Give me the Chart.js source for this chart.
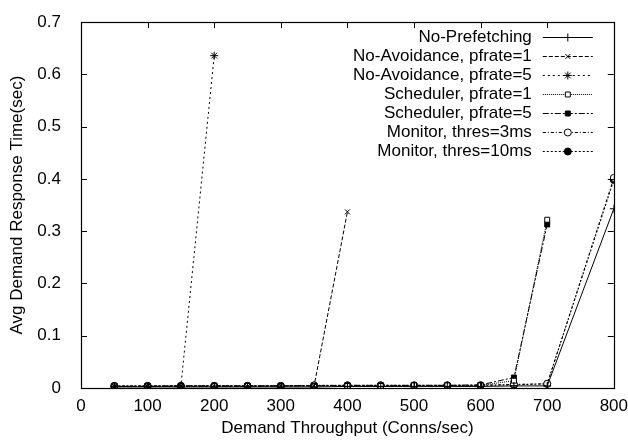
<!DOCTYPE html>
<html>
<head>
<meta charset="utf-8">
<script src="https://cdn.jsdelivr.net/npm/chart.js@4.4.1/dist/chart.umd.min.js"></script>
<style>
  html, body { margin: 0; padding: 0; background: #fff; }
  #wrap { width: 628px; height: 442px; position: relative; }
</style>
</head>
<body>
<div id="wrap"><canvas id="myChart"></canvas></div>
<script>
// values
const seriesNames = [
  'No-Prefetching',
  'No-Avoidance, pfrate=1',
  'No-Avoidance, pfrate=5',
  'Scheduler, pfrate=1',
  'Scheduler, pfrate=5',
  'Monitor, thres=3ms',
  'Monitor, thres=10ms'
]

const noPrefetchX = [50, 100, 150, 200, 250, 300, 350, 400, 450, 500, 550, 600, 650, 700, 800]
const noPrefetchY = [0.002, 0.002, 0.002, 0.002, 0.002, 0.002, 0.002, 0.003, 0.003, 0.003, 0.003, 0.003, 0.004, 0.004, 0.343]

const noAvoid1X = [50, 100, 150, 200, 250, 300, 350, 400]
const noAvoid1Y = [0.003, 0.003, 0.003, 0.003, 0.003, 0.004, 0.004, 0.337]

const noAvoid5X = [50, 100, 150, 200]
const noAvoid5Y = [0.003, 0.003, 0.004, 0.636]

const sched1X = [50, 100, 150, 200, 250, 300, 350, 400, 450, 500, 550, 600, 650, 700]
const sched1Y = [0.003, 0.003, 0.004, 0.004, 0.004, 0.004, 0.004, 0.004, 0.004, 0.005, 0.005, 0.005, 0.014, 0.322]

const sched5X = [50, 100, 150, 200, 250, 300, 350, 400, 450, 500, 550, 600, 650, 700]
const sched5Y = [0.003, 0.003, 0.004, 0.004, 0.004, 0.004, 0.004, 0.005, 0.005, 0.005, 0.005, 0.006, 0.020, 0.313]

const mon3X = [50, 100, 150, 200, 250, 300, 350, 400, 450, 500, 550, 600, 650, 700, 800]
const mon3Y = [0.004, 0.004, 0.004, 0.004, 0.004, 0.004, 0.005, 0.005, 0.005, 0.005, 0.005, 0.005, 0.007, 0.008, 0.402]

const mon10X = [50, 100, 150, 200, 250, 300, 350, 400, 450, 500, 550, 600, 650, 700, 800]
const mon10Y = [0.004, 0.004, 0.004, 0.004, 0.004, 0.004, 0.005, 0.005, 0.005, 0.005, 0.005, 0.005, 0.006, 0.008, 0.398]

const xTicks = [0, 100, 200, 300, 400, 500, 600, 700, 800]
const yTicks = [0, 0.1, 0.2, 0.3, 0.4, 0.5, 0.6, 0.7]

const pts = (xs, ys) => xs.map((x, i) => ({ x: x, y: ys[i] }))

const styles = [
  { dash: [], point: 'cross', fill: '#000', r: 4 },
  { dash: [4, 2], point: 'crossRot', fill: '#000', r: 3.5 },
  { dash: [2, 3], point: 'star', fill: '#000', r: 4 },
  { dash: [1, 1], point: 'rect', fill: '#fff', r: 3.5 },
  { dash: [6, 2, 2, 2], point: 'rect', fill: '#000', r: 3.5 },
  { dash: [3, 2, 1, 2], point: 'circle', fill: '#fff', r: 3.5 },
  { dash: [2, 2], point: 'circle', fill: '#000', r: 3.5 }
]

const seriesData = [
  pts(noPrefetchX, noPrefetchY),
  pts(noAvoid1X, noAvoid1Y),
  pts(noAvoid5X, noAvoid5Y),
  pts(sched1X, sched1Y),
  pts(sched5X, sched5Y),
  pts(mon3X, mon3Y),
  pts(mon10X, mon10Y)
]

const font = "'Liberation Sans', Arial, Helvetica, sans-serif"
const fontSize = 17

// gnuplot style frame, inward ticks on all four sides and the key
const framePlugin = {
  id: 'frame',
  afterDraw(chart) {
    const ctx = chart.ctx
    const a = chart.chartArea
    const xs = chart.scales.x
    const ys = chart.scales.y
    ctx.save()
    ctx.strokeStyle = '#000'
    ctx.lineWidth = 1
    ctx.setLineDash([])
    ctx.beginPath()
    xTicks.forEach(v => {
      const px = Math.round(xs.getPixelForValue(v)) + 0.5
      ctx.moveTo(px, a.bottom); ctx.lineTo(px, a.bottom - 6)
      ctx.moveTo(px, a.top); ctx.lineTo(px, a.top + 6)
    })
    yTicks.forEach(v => {
      const py = Math.round(ys.getPixelForValue(v)) + 0.5
      ctx.moveTo(a.left, py); ctx.lineTo(a.left + 6, py)
      ctx.moveTo(a.right, py); ctx.lineTo(a.right - 6, py)
    })
    ctx.stroke()
    ctx.lineWidth = 1.2
    ctx.strokeRect(Math.round(a.left) + 0.5, Math.round(a.top) + 0.5,
      Math.round(a.right - a.left), Math.round(a.bottom - a.top))

    // key
    ctx.font = fontSize + 'px ' + font
    ctx.textAlign = 'right'
    ctx.textBaseline = 'middle'
    ctx.fillStyle = '#000'
    chart.data.datasets.forEach((ds, i) => {
      const y = a.top + 15 + i * 19
      const tx = a.right - 82
      const x1 = a.right - 71
      const x2 = a.right - 21
      ctx.fillText(ds.label, tx, y)
      ctx.lineWidth = 1
      ctx.setLineDash(ds.borderDash)
      ctx.beginPath()
      ctx.moveTo(x1, Math.round(y) + 0.5)
      ctx.lineTo(x2, Math.round(y) + 0.5)
      ctx.stroke()
      ctx.setLineDash([])
      ctx.fillStyle = ds.pointBackgroundColor
      Chart.helpers.drawPoint(ctx, {
        pointStyle: ds.pointStyle, radius: ds.pointRadius, rotation: 0, borderWidth: 1
      }, (x1 + x2) / 2, Math.round(y) + 0.5)
      ctx.fillStyle = '#000'
    })
    ctx.restore()
  }
}

new Chart(document.getElementById('myChart').getContext('2d'), {
  type: 'line',
  data: {
    datasets: seriesNames.map((name, i) => ({
      label: name,
      data: seriesData[i],
      borderColor: '#000',
      borderWidth: 1,
      borderDash: styles[i].dash,
      tension: 0,
      fill: false,
      pointStyle: styles[i].point,
      pointRadius: styles[i].r,
      pointBorderWidth: 1,
      pointBorderColor: '#000',
      pointBackgroundColor: styles[i].fill
    }))
  },
  options: {
    responsive: true,
    maintainAspectRatio: false,
    animation: false,
    devicePixelRatio: 1,
    layout: { padding: { top: 12, right: 14, left: 0, bottom: 0 } },
    plugins: {
      legend: { display: false },
      tooltip: { enabled: false }
    },
    scales: {
      x: {
        type: 'linear',
        min: 0,
        max: 800,
        afterFit: s => { s.height = 54 },
        afterBuildTicks: s => { s.ticks = xTicks.map(v => ({ value: v })) },
        grid: { display: false },
        border: { display: false },
        ticks: {
          color: '#000',
          padding: 0,
          maxRotation: 0,
          font: { family: font, size: fontSize },
          callback: v => String(v)
        },
        title: {
          display: true,
          text: 'Demand Throughput (Conns/sec)',
          color: '#000',
          padding: { top: 0, bottom: 3 },
          font: { family: font, size: fontSize }
        }
      },
      y: {
        type: 'linear',
        min: 0,
        max: 0.7,
        afterFit: s => { s.width = 81 },
        afterBuildTicks: s => { s.ticks = yTicks.map(v => ({ value: v })) },
        grid: { display: false },
        border: { display: false },
        ticks: {
          color: '#000',
          padding: 12,
          font: { family: font, size: fontSize },
          callback: v => v === 0 ? '0' : v.toFixed(1)
        },
        title: {
          display: true,
          text: 'Avg Demand Response Time(sec)',
          color: '#000',
          padding: { top: 7, bottom: 0 },
          font: { family: font, size: fontSize }
        }
      }
    }
  },
  plugins: [framePlugin]
})
</script>
</body>
</html>
